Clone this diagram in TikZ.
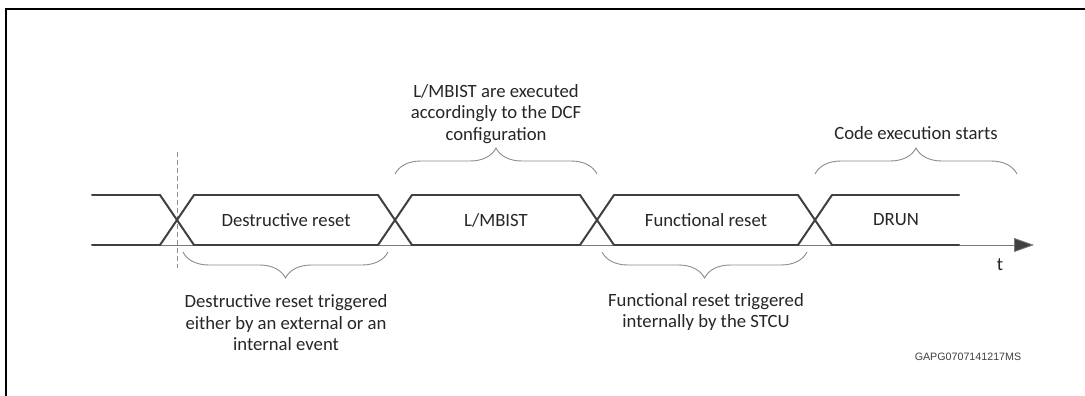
\documentclass[tikz,border=0pt]{standalone}
\usepackage{fontspec}
\setmainfont{Carlito}
\newfontfamily\codefont{Liberation Sans}
\usetikzlibrary{arrows.meta,decorations.pathreplacing}
\definecolor{sig}{HTML}{404040}
\definecolor{brc}{HTML}{8C8C8C}
\definecolor{txt}{HTML}{262626}
\tikzset{
  busline/.style={draw=sig,line width=2pt,line cap=round},
  axisline/.style={draw=sig!70,line width=0.8pt},
  bracepath/.style={draw=brc,line width=0.9pt,decorate,decoration={brace,amplitude=26pt}},
  lbl/.style={text=txt,font=\fontsize{18.7}{21.5}\selectfont,align=center,inner sep=0pt},
  marker/.style={draw=brc,line width=0.8pt,dash pattern=on 5pt off 3pt}
}
\begin{document}
\begin{tikzpicture}[x=1pt,y=-1pt]
\useasboundingbox (0,0) rectangle (1085,396);
\fill[white] (0,0) rectangle (1085,396);
% outer frame (open to the right and bottom)
\draw[black,line width=2.2pt] (6,400) -- (6,9) -- (1090,9);

% time axis
\coordinate (a0) at (92,245);
\coordinate (tip) at (1034,245);
\draw[axisline,-{Triangle[length=20pt,width=14pt,fill=sig]}] (a0) -- (tip);
\node[lbl] (t) at (1000,265) {t};

% reset marker
\coordinate (m0) at (177,152);
\coordinate (m1) at (177,268);
\draw[marker] (m0) -- (m1);

% bus phases: top and bottom rails
\foreach \xa/\xb in {92/160,194/378,412/580,614/798,832/959}{
  \draw[busline] (\xa,195) -- (\xb,195);
  \draw[busline] (\xa,245) -- (\xb,245);
}
% transitions
\foreach \xc in {177,395,597,815}{
  \draw[busline] (\xc-17,195) -- (\xc+17,245);
  \draw[busline] (\xc-17,245) -- (\xc+17,195);
}

% phase labels
\node[lbl] (dest) at (286,220) {Destructive reset};
\node[lbl] (lmb)  at (496,220) {L/MBIST};
\node[lbl] (func) at (706,220) {Functional reset};
\node[lbl] (drun) at (896,220) {DRUN};

% braces below
\coordinate (b1l) at (183,252);
\coordinate (b1r) at (388,252);
\draw[bracepath] (b1r) -- (b1l);
\coordinate (b2l) at (602,252);
\coordinate (b2r) at (807,252);
\draw[bracepath] (b2r) -- (b2l);
% braces above
\coordinate (b3l) at (395,174);
\coordinate (b3r) at (597,174);
\draw[bracepath] (b3l) -- (b3r);
\coordinate (b4l) at (815,174);
\coordinate (b4r) at (1017,174);
\draw[bracepath] (b4l) -- (b4r);

% notes
\node[lbl] (destnote) at (286,323) {Destructive reset triggered\\either by an external or an\\internal event};
\node[lbl] (funcnote) at (706,312) {Functional reset triggered\\internally by the STCU};
\node[lbl] (lmbnote) at (496,114) {L/MBIST are executed\\accordingly to the DCF\\configuration};
\node[lbl] (codenote) at (916,133) {Code execution starts};

\node[text=sig,font=\codefont\fontsize{10.7}{12}\selectfont,inner sep=0pt] (ref) at (968,357) {GAPG0707141217MS};
\end{tikzpicture}
\end{document}
